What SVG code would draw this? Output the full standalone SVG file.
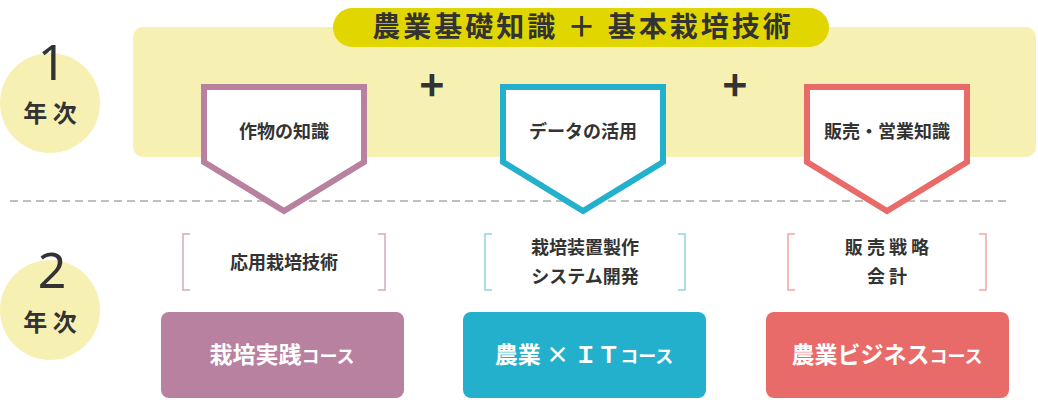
<svg xmlns="http://www.w3.org/2000/svg" width="1038" height="400" viewBox="0 0 1038 400">
<style>
text{font-family:"Noto Sans CJK JP","Noto Sans",sans-serif;text-anchor:middle;fill:#333}
.num{font-family:"Noto Sans",sans-serif;font-size:50px;font-weight:400}
.yr{font-size:24px;font-weight:700}
.lbl{font-size:18px;font-weight:700}
.br{fill:none;stroke-width:1.5}
.btn{font-size:23px;font-weight:700;fill:#fff}
.sm{font-size:18px}
.pent{fill:#fff;stroke-width:6}
</style>
<rect x="133" y="27" width="903" height="130" rx="10" fill="#f6f1b3"/>
<g id="year1"><circle cx="50" cy="103" r="50" fill="#f6f1b3"/><text class="num" x="52" y="80">1</text><text class="yr" x="50" y="122">年 次</text></g>
<g id="year2"><circle cx="50" cy="310" r="50" fill="#f6f1b3"/><text class="num" x="52" y="288">2</text><text class="yr" x="50" y="331">年 次</text></g>
<g id="title"><rect x="333" y="8" width="496" height="39" rx="19.5" fill="#e1d600"/><text x="583" y="37" style="font-size:28px;font-weight:700;letter-spacing:3px">農業基礎知識 ＋ 基本栽培技術</text></g>
<text x="432" y="101" style="font-size:42px;font-weight:700">+</text>
<text x="735" y="101" style="font-size:42px;font-weight:700">+</text>
<line x1="10" y1="201" x2="1010" y2="201" stroke="#aaa" stroke-width="1.5" stroke-dasharray="8,5"/>
<g id="n1"><polygon class="pent" points="204,87 364,87 364,162 284,211 204,162" stroke="#b7819f"/><text class="lbl" x="284" y="138">作物の知識</text></g>
<g id="n2"><polygon class="pent" points="503,87 663,87 663,162 583,211 503,162" stroke="#22b0cc"/><text class="lbl" x="583" y="138">データの活用</text></g>
<g id="n3"><polygon class="pent" points="807,87 967,87 967,162 887,211 807,162" stroke="#e96b69"/><text class="lbl" x="887" y="138">販売・営業知識</text></g>
<g id="b1"><path class="br" stroke="#d4a9c0" d="M190,234 H183 V290 H190 M378,234 H385 V290 H378"/><text class="lbl" x="284" y="269">応用栽培技術</text></g>
<g id="b2"><path class="br" stroke="#8fd3e3" d="M492,234 H485 V290 H492 M678,234 H685 V290 H678"/><text class="lbl" x="585" y="254">栽培装置製作</text><text class="lbl" x="585" y="283">システム開発</text></g>
<g id="b3"><path class="br" stroke="#f0a7a5" d="M795,234 H788 V290 H795 M979,234 H986 V290 H979"/><text class="lbl" x="887" y="254">販 売 戦 略</text><text class="lbl" x="887" y="283">会 計</text></g>
<g id="c1"><rect x="161" y="312" width="243" height="86" rx="8" fill="#b7819f"/><text class="btn" x="282" y="363">栽培実践<tspan class="sm">コース</tspan></text></g>
<g id="c2"><rect x="463" y="312" width="243" height="86" rx="8" fill="#22b0cc"/><text class="btn" x="584" y="363">農業 × ＩＴ<tspan class="sm">コース</tspan></text></g>
<g id="c3"><rect x="766" y="312" width="243" height="86" rx="8" fill="#e96b69"/><text class="btn" x="887" y="363">農業ビジネス<tspan class="sm">コース</tspan></text></g>
<g id="connectors"></g>
</svg>
